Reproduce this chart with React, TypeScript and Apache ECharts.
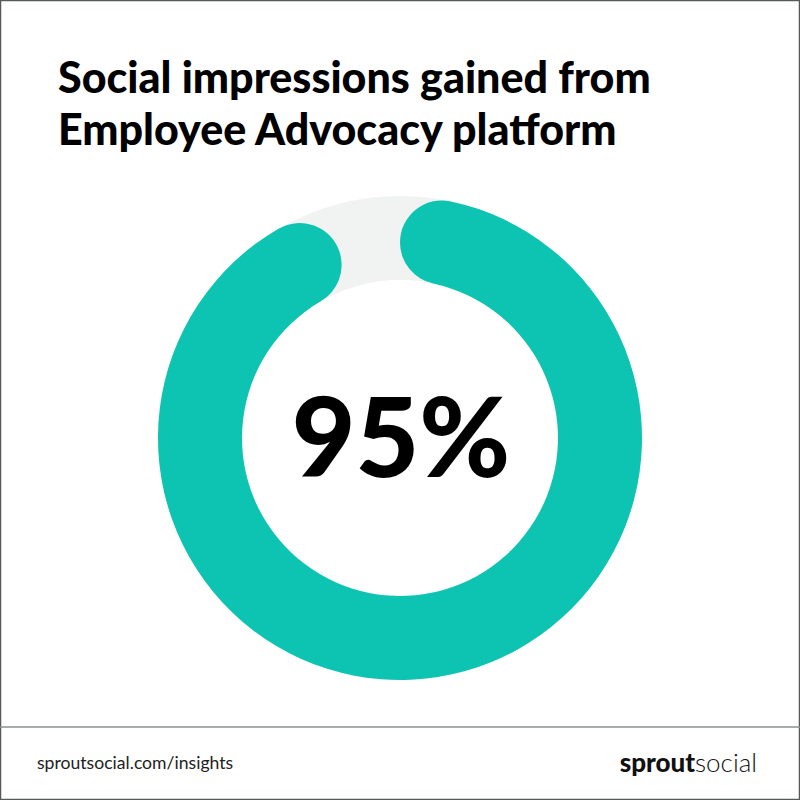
import React, { useEffect, useRef } from "react";
import * as echarts from "echarts";

const titleLines = ["Social impressions gained from", "Employee Advocacy platform"];
const categories = ["Gained from platform", "Other"];
const shareValues = [95, 5];
const footerLeft = "sproutsocial.com/insights";
const logoBold = "sprout";
const logoLight = "social";

const TEAL = "#0cc4b1";
const RING_GRAY = "#f1f2f2";

export default function App() {
  const ref = useRef<HTMLDivElement>(null);
  useEffect(() => {
    if (!ref.current) return;
    const chart = echarts.init(ref.current, null, { renderer: "svg" });
    const center = [400, 438];
    const radius = [158, 242];
    chart.setOption({
      animation: false,
      backgroundColor: "#ffffff",
      title: {
        text: titleLines.join("\n"),
        left: 53,
        top: 45,
        textStyle: {
          fontFamily: "Lato",
          fontWeight: 900,
          fontSize: 43,
          lineHeight: 52,
          color: "#000000",
        },
      },
      series: [
        {
          type: "pie",
          silent: true,
          center,
          radius,
          label: { show: false },
          labelLine: { show: false },
          itemStyle: { color: RING_GRAY },
          data: [{ name: "track", value: 1 }],
          z: 1,
        },
        {
          type: "pie",
          silent: true,
          center,
          radius,
          startAngle: 90,
          clockwise: true,
          label: { show: false },
          labelLine: { show: false },
          data: categories.map((c, i) => ({
            name: c,
            value: shareValues[i],
            itemStyle:
              i === 0
                ? { color: TEAL, borderRadius: 42 }
                : { color: "rgba(0,0,0,0)" },
          })),
          z: 2,
        },
      ],
      graphic: [
        {
          type: "rect",
          shape: { x: 0.5, y: 0.5, width: 799, height: 799 },
          style: { fill: "none", stroke: "#555a5a", lineWidth: 1.5 },
          silent: true,
        },
        {
          type: "line",
          shape: { x1: 0, y1: 727, x2: 800, y2: 727 },
          style: { stroke: "#8a8f8f", lineWidth: 1.5 },
          silent: true,
        },
        {
          type: "text",
          x: 401,
          y: 434,
          style: {
            text: `${shareValues[0]}%`,
            fontFamily: "Lato",
            fontWeight: 900,
            fontSize: 110,
            fill: "#000000",
            align: "center",
            verticalAlign: "middle",
          },
        },
        {
          type: "text",
          x: 37,
          y: 762,
          style: {
            text: footerLeft,
            fontFamily: "Lato",
            fontWeight: 400,
            fontSize: 17.6,
            fill: "#222222",
            align: "left",
            verticalAlign: "middle",
          },
        },
        {
          type: "text",
          x: 757,
          y: 762,
          style: {
            text: `{b|${logoBold}}{l|${logoLight}}`,
            align: "right",
            verticalAlign: "middle",
            rich: {
              b: { fontFamily: "Lato", fontWeight: 900, fontSize: 26, fill: "#111111" },
              l: { fontFamily: "Lato", fontWeight: 300, fontSize: 26, fill: "#111111" },
            },
          },
        },
      ],
    });
    return () => chart.dispose();
  }, []);
  return (
    <div
      ref={ref}
      style={{ position: "absolute", left: 0, top: 0, width: 800, height: 800 }}
    />
  );
}
